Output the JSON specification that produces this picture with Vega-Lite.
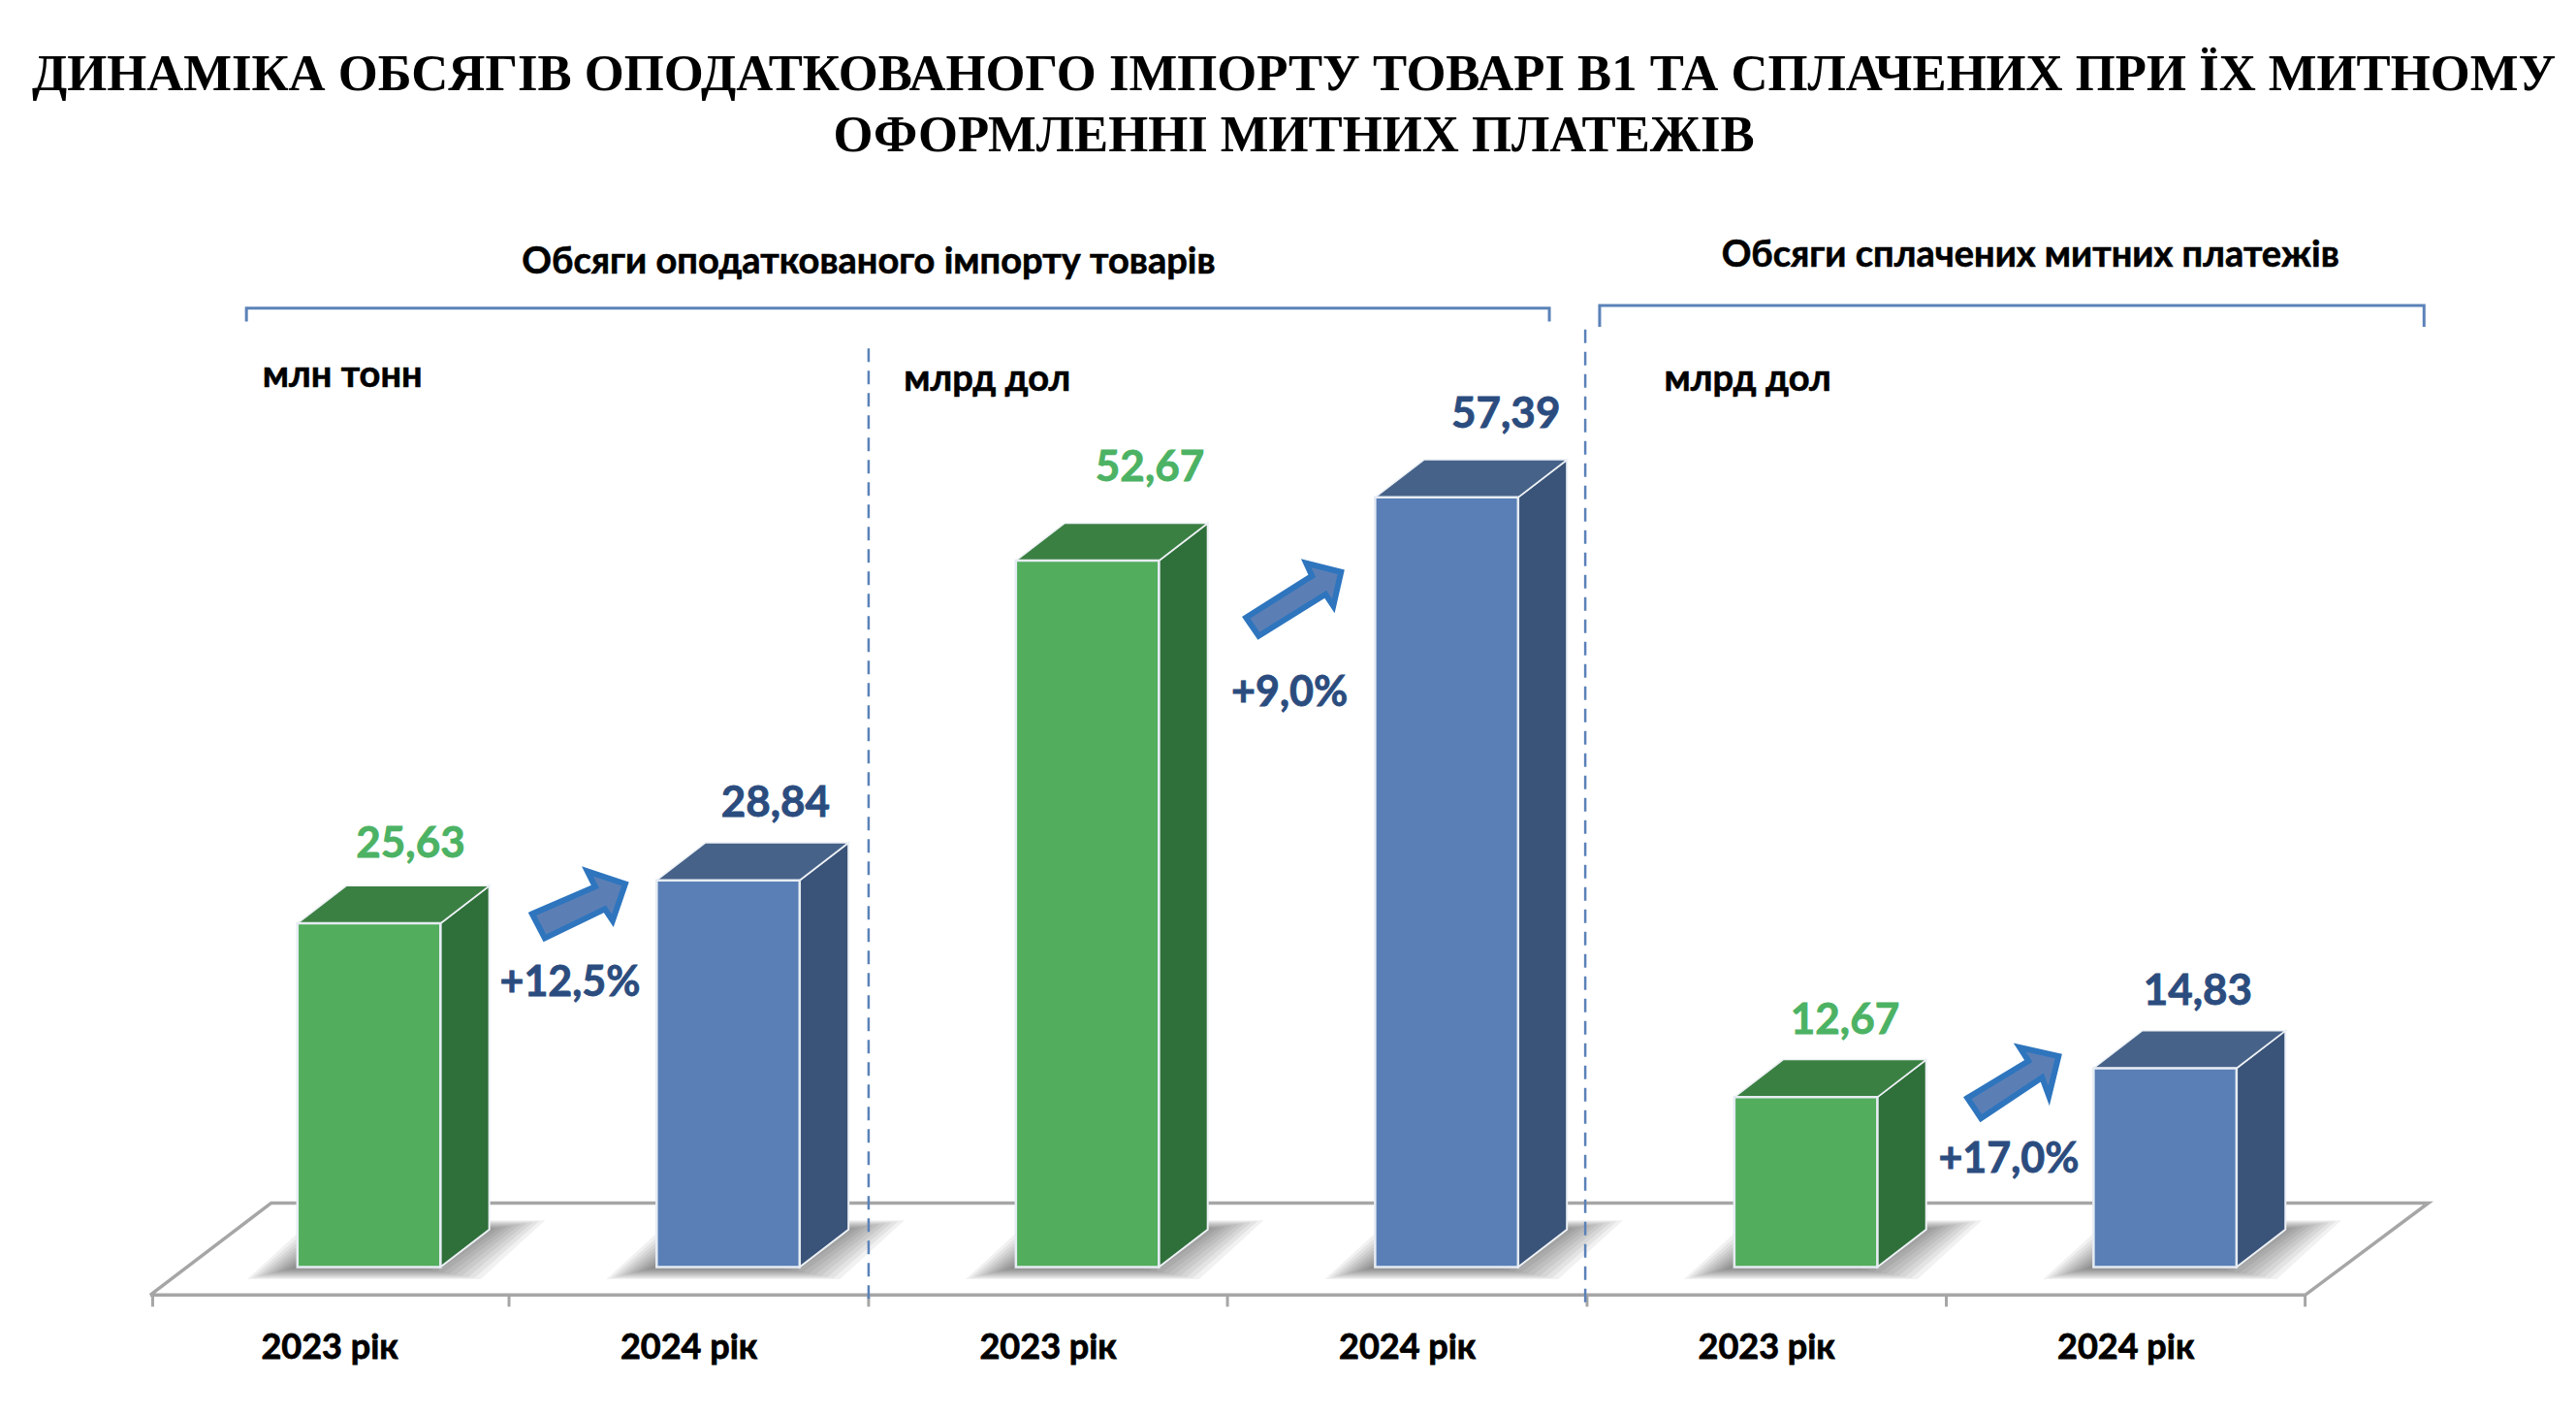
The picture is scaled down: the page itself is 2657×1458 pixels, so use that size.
{
"$schema":"https://vega.github.io/schema/vega-lite/v6.json",
"width":2657,"height":1458,"autosize":{"type":"none"},"padding":0,"background":"white",
"config":{"view":{"stroke":null}},
"title":{"text":["ДИНАМІКА ОБСЯГІВ ОПОДАТКОВАНОГО ІМПОРТУ ТОВАРІ В1 ТА СПЛАЧЕНИХ ПРИ ЇХ МИТНОМУ","ОФОРМЛЕННІ МИТНИХ ПЛАТЕЖІВ"],"font":"Liberation Serif","fontWeight":"bold","fontSize":52.7,"lineHeight":63,"color":"black","anchor":"middle","frame":"group","orient":"top","baseline":"bottom","offset":-220,"dx":6},
"datasets":{
"bars":[
{"panel":"A","pos":0,"year":"2023 рік","value":25.63,"label":"25,63"},
{"panel":"A","pos":1,"year":"2024 рік","value":28.84,"label":"28,84"},
{"panel":"B","pos":2,"year":"2023 рік","value":52.67,"label":"52,67"},
{"panel":"B","pos":3,"year":"2024 рік","value":57.39,"label":"57,39"},
{"panel":"C","pos":4,"year":"2023 рік","value":12.67,"label":"12,67"},
{"panel":"C","pos":5,"year":"2024 рік","value":14.83,"label":"14,83"}],
"growth":[
{"panel":"A","label":"+12,5%","slot":0.759,"level":21.4,"arrowSlot":0.783,"arrowLevel":27.2},
{"panel":"B","label":"+9,0%","slot":2.762,"level":43,"arrowSlot":2.773,"arrowLevel":49.8},
{"panel":"C","label":"+17,0%","slot":4.764,"level":8.2,"arrowSlot":4.773,"arrowLevel":13.7}],
"floor":[
{"o":0,"slot":-0.41,"level":-2.08},{"o":1,"slot":-0.073,"level":4.78},{"o":2,"slot":5.932,"level":4.78},{"o":3,"slot":5.589,"level":-2.08},{"o":4,"slot":-0.41,"level":-2.08}],
"ticks":[{"slot":-0.403},{"slot":0.589},{"slot":1.59},{"slot":2.589},{"slot":3.59},{"slot":4.59},{"slot":5.589}],
"dividers":[{"slot":1.59,"level":68.5,"bottom":-2.95},{"slot":3.585,"level":69.9,"bottom":-2.95}],
"brackets":[
{"b":"A","o":0,"slot":-0.142,"level":70.5},{"b":"A","o":1,"slot":-0.142,"level":71.5},{"b":"A","o":2,"slot":3.485,"level":71.5},{"b":"A","o":3,"slot":3.485,"level":70.5},
{"b":"C","o":0,"slot":3.625,"level":70.1},{"b":"C","o":1,"slot":3.625,"level":71.7},{"b":"C","o":2,"slot":5.92,"level":71.7},{"b":"C","o":3,"slot":5.92,"level":70.1}],
"heads":[
{"text":"Обсяги оподаткованого імпорту товарів","slot":1.59,"level":75.1},
{"text":"Обсяги сплачених митних платежів","slot":4.824,"level":75.6}],
"units":[
{"text":"млн тонн","slot":-0.097,"level":66.56},
{"text":"млрд дол","slot":1.688,"level":66.27},
{"text":"млрд дол","slot":3.805,"level":66.27}]
},
"encoding":{
"x":{"field":"slot","type":"quantitative","axis":null,"scale":{"domain":[-0.828,6.343],"nice":false,"zero":false}},
"y":{"field":"level","type":"quantitative","axis":null,"scale":{"domain":[-10.95,94.47],"nice":false,"zero":false}}
},
"layer":[
{"data":{"name":"floor"},"mark":{"type":"line","stroke":"#A6A6A6","strokeWidth":3.5,"strokeJoin":"miter"},"encoding":{"order":{"field":"o","type":"ordinal"}}},
{"data":{"name":"ticks"},"transform":[{"calculate":"-2.08","as":"level"},{"calculate":"-2.95","as":"level2"}],"mark":{"type":"rule","stroke":"#A6A6A6","strokeWidth":3},"encoding":{"y2":{"field":"level2"}}},
{"data":{"name":"bars"},"transform":[
{"calculate":"[0,1,2,3,4,5,6,7,8,9,10,11]","as":"step"},{"flatten":["step"]},
{"calculate":"[0,1,2,3]","as":"corner"},{"flatten":["corner"]},
{"calculate":"datum.step/11","as":"t"},
{"calculate":"datum.pos-0.14*datum.t","as":"l0"},
{"calculate":"datum.pos+0.5+0.19*datum.t","as":"r1"},
{"calculate":"-0.9*datum.t","as":"y0"},
{"calculate":"2.7+0.8*datum.t","as":"y1"},
{"calculate":"[datum.l0,datum.l0+0.18,datum.r1-0.18,datum.r1][datum.corner]","as":"slot"},
{"calculate":"[datum.y0,datum.y1,datum.y1,datum.y1][datum.corner]","as":"level"},
{"calculate":"[datum.y0,datum.y0,datum.y0,datum.y1][datum.corner]","as":"base"},
{"calculate":"datum.pos*100+datum.step","as":"sid"}],
"mark":{"type":"area","fill":"#333333","fillOpacity":0.065,"stroke":null},
"encoding":{"y2":{"field":"base"},"detail":{"field":"sid","type":"nominal"}}},
{"data":{"name":"dividers"},"mark":{"type":"rule","stroke":"#5B82B8","strokeWidth":2.5,"strokeDash":[14,9]},"encoding":{"y2":{"field":"bottom"}}},
{"data":{"name":"brackets"},"mark":{"type":"line","stroke":"#5B82B8","strokeWidth":3},"encoding":{"order":{"field":"o","type":"ordinal"},"detail":{"field":"b","type":"nominal"}}},
{"data":{"name":"bars"},"transform":[
{"calculate":"[0,1]","as":"corner"},{"flatten":["corner"]},
{"calculate":"datum.pos+0.398+datum.corner*0.136","as":"slot"},
{"calculate":"datum.value+datum.corner*2.8","as":"level"},
{"calculate":"datum.corner*2.8","as":"base"}],
"mark":{"type":"area","stroke":"#EDF1F5","strokeWidth":2},
"encoding":{"y2":{"field":"base"},"detail":{"field":"pos","type":"nominal"},"fill":{"condition":{"test":"datum.year==='2023 рік'","value":"#2F6F3A"},"value":"#3A5378"}}},
{"data":{"name":"bars"},"transform":[
{"calculate":"[0,1,2,3]","as":"corner"},{"flatten":["corner"]},
{"calculate":"datum.pos+[0,0.136,0.398,0.534][datum.corner]","as":"slot"},
{"calculate":"datum.value+[0,2.8,2.8,2.8][datum.corner]","as":"level"},
{"calculate":"datum.value+[0,0,0,2.8][datum.corner]","as":"base"}],
"mark":{"type":"area","stroke":"#EDF1F5","strokeWidth":1.5},
"encoding":{"y2":{"field":"base"},"detail":{"field":"pos","type":"nominal"},"fill":{"condition":{"test":"datum.year==='2023 рік'","value":"#3B8043"},"value":"#466289"}}},
{"data":{"name":"bars"},"transform":[
{"calculate":"datum.pos","as":"slot"},{"calculate":"datum.pos+0.398","as":"slot2"},{"calculate":"datum.value","as":"level"},{"calculate":"0","as":"base"}],
"mark":{"type":"bar","stroke":"#E6ECF3","strokeWidth":2.5},
"encoding":{"x2":{"field":"slot2"},"y2":{"field":"base"},"fill":{"condition":{"test":"datum.year==='2023 рік'","value":"#52AD5D"},"value":"#5A7FB6"}}},
{"data":{"name":"bars"},"transform":[
{"calculate":"datum.pos+[0.315,0.331,0.373,0.364,0.308,0.29][datum.pos]","as":"slot"},
{"calculate":"datum.value+[6.07,5.93,7.09,6.36,5.86,5.86][datum.pos]","as":"level"}],
"mark":{"type":"text","font":"Lato","fontWeight":"bold","fontSize":44,"align":"center","baseline":"middle","dy":3,"strokeWidth":0.8},
"encoding":{"text":{"field":"label"},"fill":{"condition":{"test":"datum.year==='2023 рік'","value":"#4CB264"},"value":"#2B4C7E"},"stroke":{"condition":{"test":"datum.year==='2023 рік'","value":"#4CB264"},"value":"#2B4C7E"}}},
{"data":{"name":"bars"},"transform":[
{"calculate":"datum.pos+0.09","as":"slot"},{"calculate":"-5.89","as":"level"}],
"mark":{"type":"text","font":"Lato","fontWeight":"bold","fontSize":36,"align":"center","baseline":"middle","dy":2,"fill":"black","stroke":"black","strokeWidth":0.8},
"encoding":{"text":{"field":"year"}}},
{"data":{"name":"growth"},"transform":[{"calculate":"datum.arrowSlot","as":"slot"},{"calculate":"datum.arrowLevel","as":"level"}],
"mark":{"type":"point","filled":true,"size":4,"fill":"#5B7FB5","stroke":"#2E75BE","strokeWidth":6,"opacity":1,"strokeJoin":"miter"},
"encoding":{"shape":{"field":"panel","type":"nominal","legend":null,"scale":{"domain":["A","B","C"],"range":["M-48,12 L17,-16 L9,-32 L48,-19 L35,19 L27,7 L-35,37 Z","M-49,19 L19,-24 L13,-37 L49,-28 L41,7 L33,-5 L-36,38 Z","M-46,15 L17,-23 L8,-37 L48,-28 L38,13 L31,-6 L-32,36 Z"]}}}},
{"data":{"name":"growth"},
"mark":{"type":"text","font":"Lato","fontWeight":"bold","fontSize":43,"align":"center","baseline":"middle","dy":3,"fill":"#2B4C7E","stroke":"#2B4C7E","strokeWidth":0.8},
"encoding":{"text":{"field":"label"}}},
{"data":{"name":"heads"},
"mark":{"type":"text","font":"Lato","fontWeight":"bold","fontSize":38,"align":"center","baseline":"middle","dy":3,"fill":"black","stroke":"black","strokeWidth":0.6},
"encoding":{"text":{"field":"text"}}},
{"data":{"name":"units"},
"mark":{"type":"text","font":"Lato","fontWeight":"bold","fontSize":38,"align":"left","baseline":"middle","dy":2,"fill":"black","stroke":"black","strokeWidth":0.6},
"encoding":{"text":{"field":"text"}}}
]
}
